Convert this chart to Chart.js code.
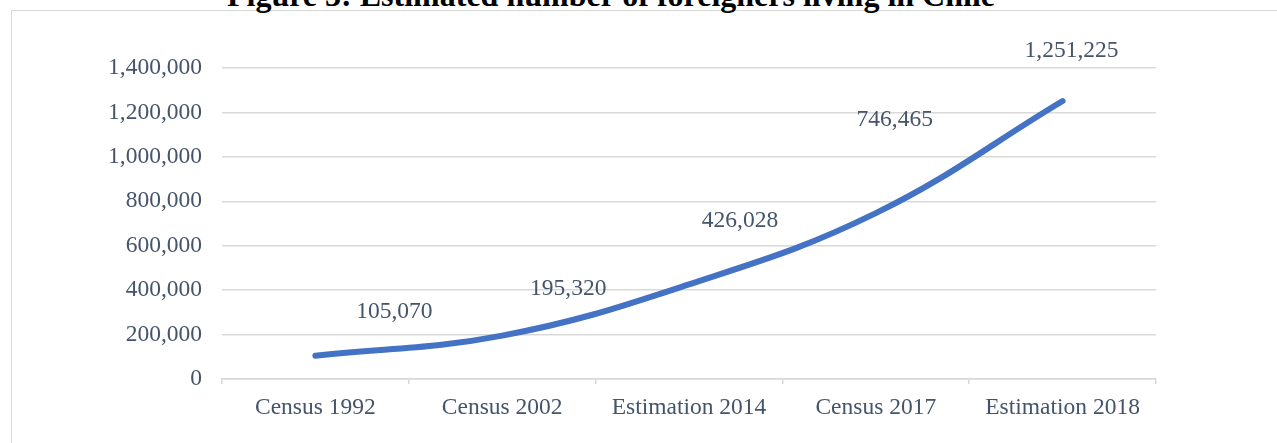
<!DOCTYPE html>
<html>
<head>
<meta charset="utf-8">
<script src="https://cdn.jsdelivr.net/npm/chart.js@4.4.1/dist/chart.umd.min.js"></script>
<style>
    html, body { margin: 0; padding: 0; background: #fff; overflow: hidden; }
    #wrap { position: relative; width: 1277px; height: 443px; }
    #frame {
        position: absolute; left: 11px; top: 10px; width: 1300px; height: 460px;
        border: 1.5px solid #d9d9d9; box-sizing: border-box;
    }
    #title {
        position: absolute; left: 0; width: 1222px; top: -21px; line-height: 32px;
        text-align: center; font-family: 'Liberation Serif', 'Times New Roman', serif;
        font-weight: bold; font-size: 32px; color: #000; white-space: nowrap;
    }
    canvas { position: absolute; left: 0; top: 0; }
</style>
</head>
<body>
<div id="wrap">
    <div id="frame"></div>
    <div id="title">Figure 3: Estimated number of foreigners living in Chile</div>
    <canvas id="foreignersChart" width="1277" height="443"></canvas>
</div>
<script>
// --- data ---
const categories = ['Census 1992', 'Census 2002', 'Estimation 2014', 'Census 2017', 'Estimation 2018'];
const foreigners = [105070, 195320, 426028, 746465, 1251225];
const yTicks = [0, 200000, 400000, 600000, 800000, 1000000, 1200000, 1400000];

// Excel moved the data labels by hand; offsets from each point in px
const labelOffsets = [[79, -44], [66, -47], [51, -64], [19, -93], [9, -50]];

const TEXT_COLOR = '#44546A';
const GRID_COLOR = '#d9d9d9';
const FONT = { family: "'Liberation Serif', 'Times New Roman', serif", size: 23.5 };

const fmt = (v) => v.toLocaleString('en-US');

// draw the value labels above the line
const valueLabels = {
    id: 'valueLabels',
    afterDatasetsDraw(chart) {
        const ctx = chart.ctx;
        const meta = chart.getDatasetMeta(0);
        ctx.save();
        ctx.font = `${FONT.size}px ${FONT.family}`;
        ctx.fillStyle = TEXT_COLOR;
        ctx.textAlign = 'center';
        ctx.textBaseline = 'middle';
        meta.data.forEach((pt, i) => {
            const [dx, dy] = labelOffsets[i];
            ctx.fillText(fmt(foreigners[i]), pt.x + dx, pt.y + dy);
        });
        ctx.restore();
    }
};

new Chart(document.getElementById('foreignersChart'), {
    type: 'line',
    data: {
        labels: categories,
        datasets: [{
            data: foreigners,
            borderColor: '#4472C4',
            borderWidth: 6,
            borderCapStyle: 'round',
            tension: 0.4,
            pointRadius: 0,
            fill: false
        }]
    },
    options: {
        responsive: false,
        animation: false,
        layout: { padding: { left: 12, right: 121, top: 68, bottom: 0 } },
        plugins: { legend: { display: false }, tooltip: { enabled: false } },
        scales: {
            x: {
                offset: true,
                grid: { offset: true, drawOnChartArea: false, drawTicks: true, tickLength: 5, color: GRID_COLOR, lineWidth: 1.5 },
                border: { display: true, color: GRID_COLOR, width: 1.5 },
                ticks: { color: TEXT_COLOR, font: FONT, padding: 10, maxRotation: 0 },
                afterFit(scale) { scale.height = 64; }
            },
            y: {
                min: 0,
                max: 1400000,
                afterBuildTicks(scale) { scale.ticks = yTicks.map(v => ({ value: v })); },
                grid: { drawTicks: false, color: GRID_COLOR, lineWidth: 1.5 },
                border: { display: false },
                ticks: { color: TEXT_COLOR, font: FONT, padding: 20, callback: (v) => fmt(v) },
                afterFit(scale) { scale.width = 210; }
            }
        }
    },
    plugins: [valueLabels]
});
</script>
</body>
</html>
